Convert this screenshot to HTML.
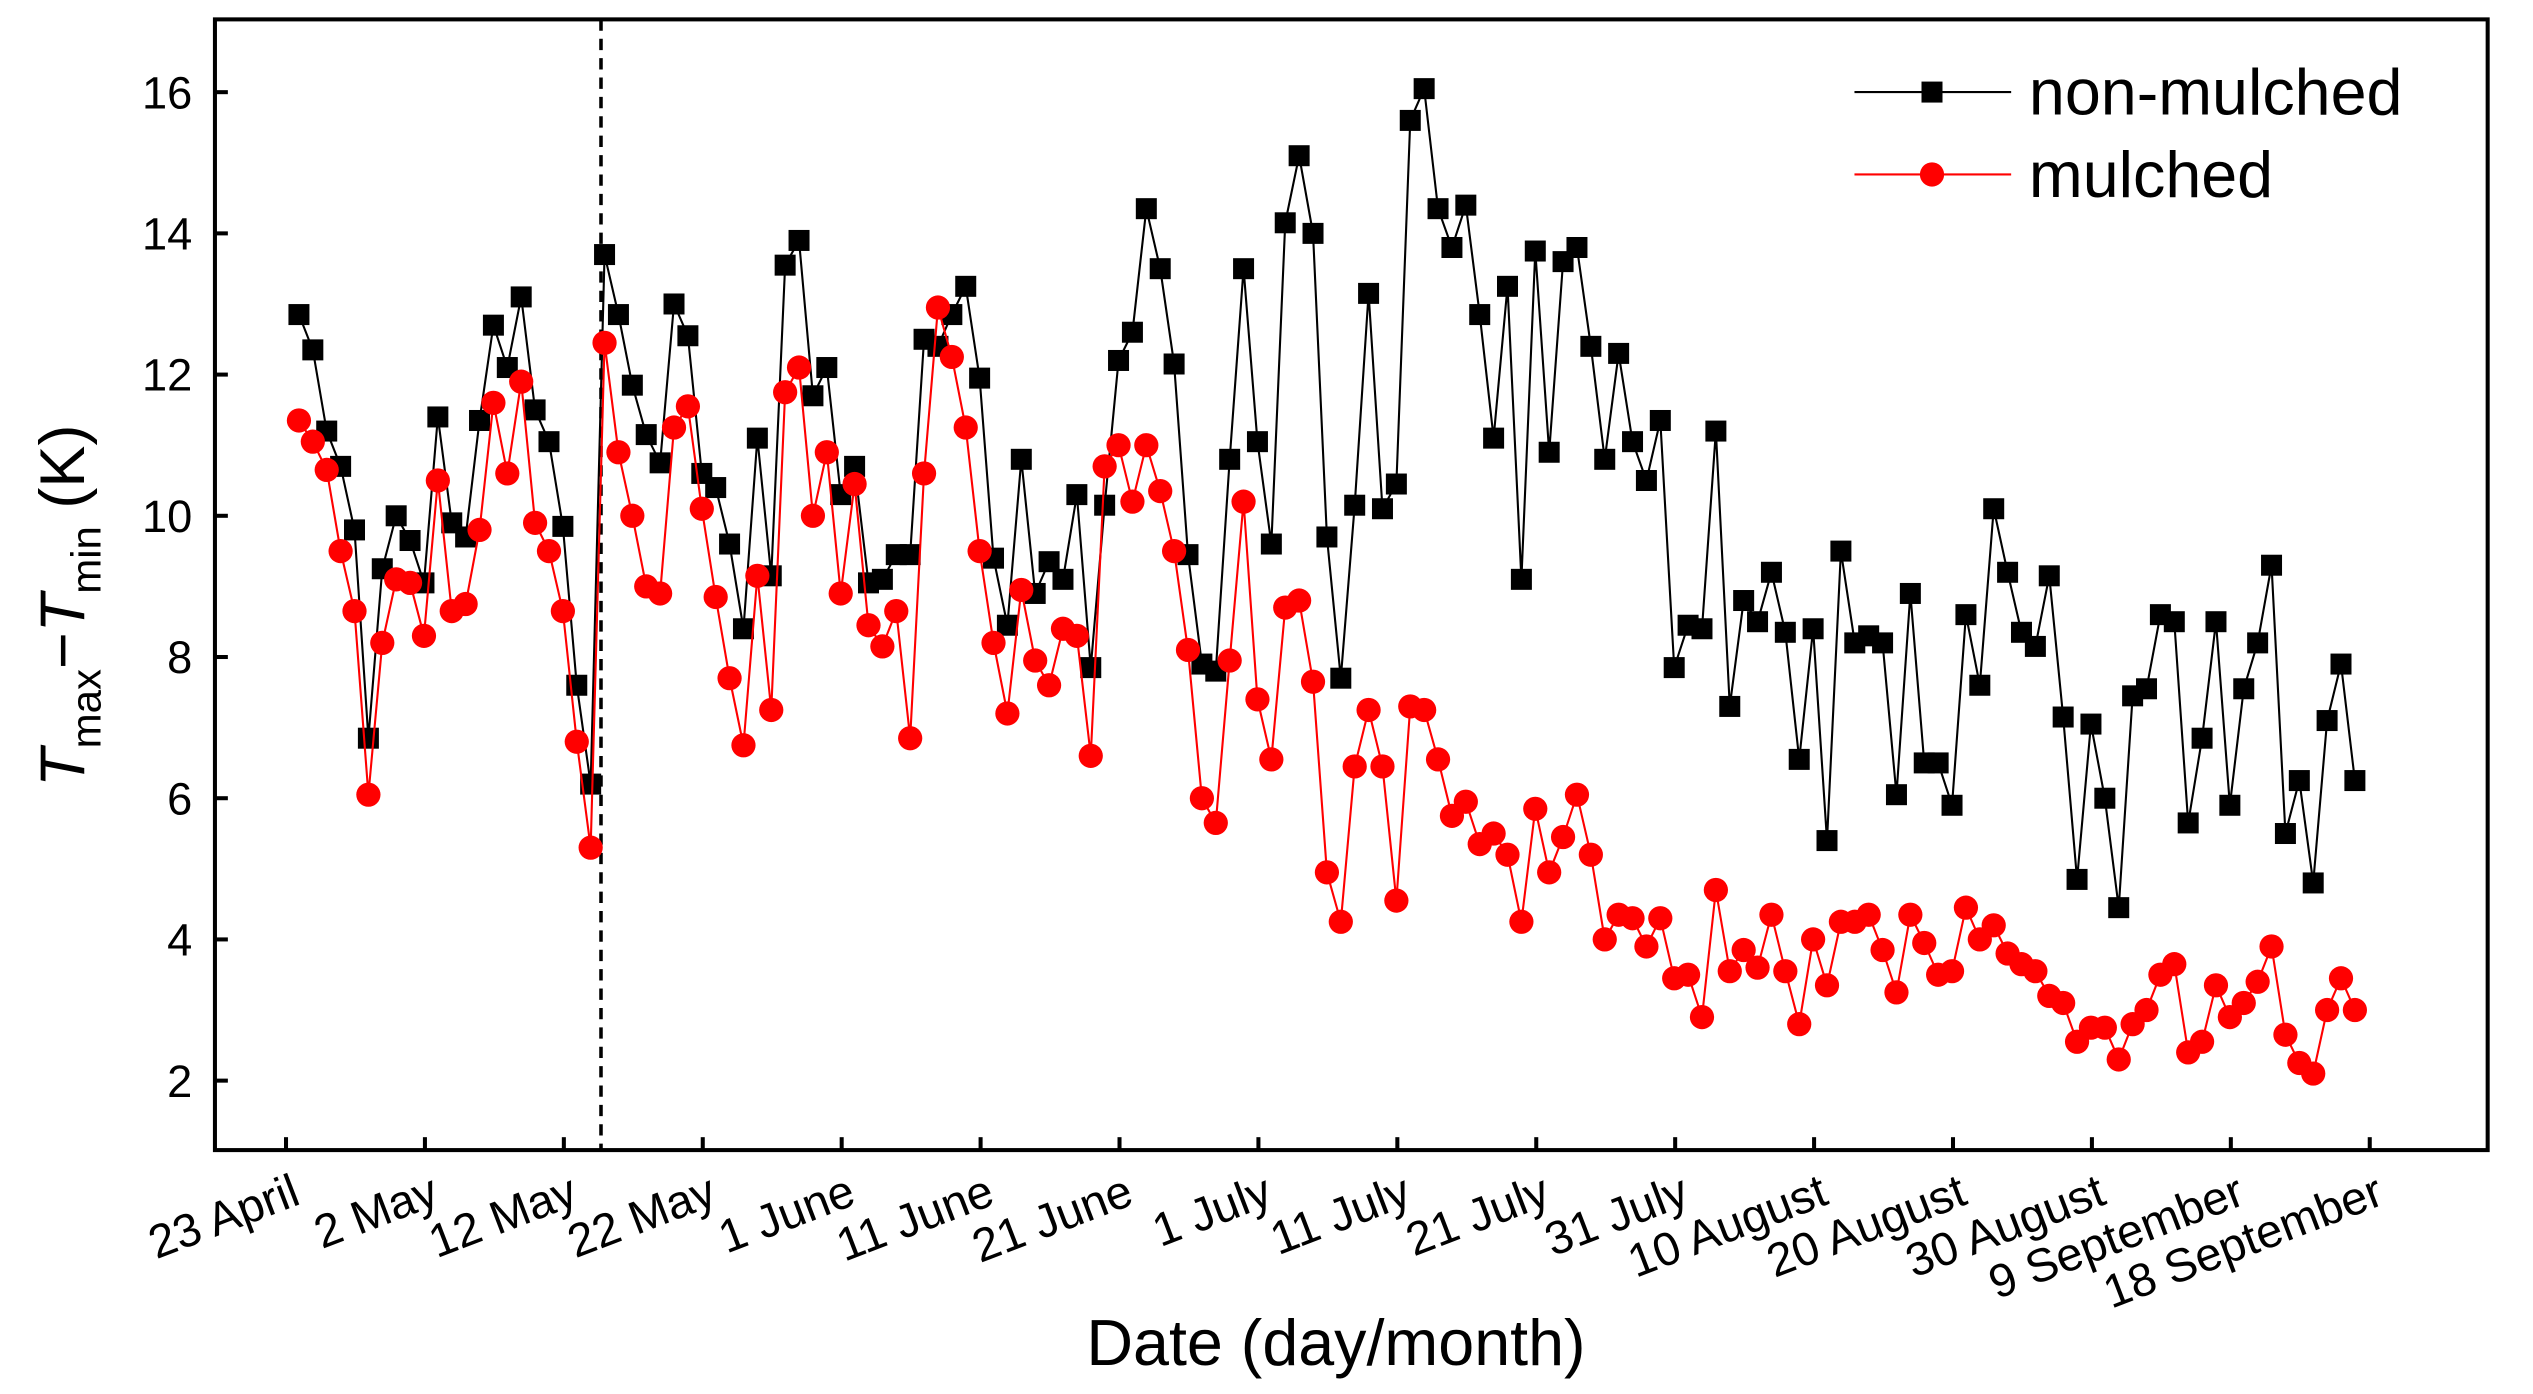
<!DOCTYPE html>
<html><head><meta charset="utf-8">
<style>
html,body{margin:0;padding:0;background:#fff;}
svg{display:block;}
text{font-family:"Liberation Sans",Arial,sans-serif;fill:#000;}
</style></head>
<body>
<svg id="chart" width="2533" height="1394" viewBox="0 0 1568 863" xmlns="http://www.w3.org/2000/svg">
<g id="plot"></g>
</svg>
<script>
const tickLabels = ["23 April","2 May","12 May","22 May","1 June","11 June","21 June","1 July","11 July","21 July","31 July","10 August","20 August","30 August","9 September","18 September"];
const yTicks = [2,4,6,8,10,12,14,16];
const nonMulched = [12.85,12.35,11.2,10.7,9.8,6.85,9.25,10.0,9.65,9.05,11.4,9.9,9.7,11.35,12.7,12.1,13.1,11.5,11.05,9.85,7.6,6.2,13.7,12.85,11.85,11.15,10.75,13.0,12.55,10.6,10.4,9.6,8.4,11.1,9.15,13.55,13.9,11.7,12.1,10.3,10.7,9.05,9.1,9.45,9.45,12.5,12.4,12.85,13.25,11.95,9.4,8.45,10.8,8.9,9.35,9.1,10.3,7.85,10.15,12.2,12.6,14.35,13.5,12.15,9.45,7.9,7.8,10.8,13.5,11.05,9.6,14.15,15.1,14.0,9.7,7.7,10.15,13.15,10.1,10.45,15.6,16.05,14.35,13.8,14.4,12.85,11.1,13.25,9.1,13.75,10.9,13.6,13.8,12.4,10.8,12.3,11.05,10.5,11.35,7.85,8.45,8.4,11.2,7.3,8.8,8.5,9.2,8.35,6.55,8.4,5.4,9.5,8.2,8.3,8.2,6.05,8.9,6.5,6.5,5.9,8.6,7.6,10.1,9.2,8.35,8.15,9.15,7.15,4.85,7.05,6.0,4.45,7.45,7.55,8.6,8.5,5.65,6.85,8.5,5.9,7.55,8.2,9.3,5.5,6.25,4.8,7.1,7.9,6.25];
const mulched = [11.35,11.05,10.65,9.5,8.65,6.05,8.2,9.1,9.05,8.3,10.5,8.65,8.75,9.8,11.6,10.6,11.9,9.9,9.5,8.65,6.8,5.3,12.45,10.9,10.0,9.0,8.9,11.25,11.55,10.1,8.85,7.7,6.75,9.15,7.25,11.75,12.1,10.0,10.9,8.9,10.45,8.45,8.15,8.65,6.85,10.6,12.95,12.25,11.25,9.5,8.2,7.2,8.95,7.95,7.6,8.4,8.3,6.6,10.7,11.0,10.2,11.0,10.35,9.5,8.1,6.0,5.65,7.95,10.2,7.4,6.55,8.7,8.8,7.65,4.95,4.25,6.45,7.25,6.45,4.55,7.3,7.25,6.55,5.75,5.95,5.35,5.5,5.2,4.25,5.85,4.95,5.45,6.05,5.2,4.0,4.35,4.3,3.9,4.3,3.45,3.5,2.9,4.7,3.55,3.85,3.6,4.35,3.55,2.8,4.0,3.35,4.25,4.25,4.35,3.85,3.25,4.35,3.95,3.5,3.55,4.45,4.0,4.2,3.8,3.65,3.55,3.2,3.1,2.55,2.75,2.75,2.3,2.8,3.0,3.5,3.65,2.4,2.55,3.35,2.9,3.1,3.4,3.9,2.65,2.25,2.1,3.0,3.45,3.0];

const NS="http://www.w3.org/2000/svg";
const L=133,R=1540,T=12,B=712;
function yS(v){return 669-(v-2)*43.71;}
function xS(i){return 185+i*8.6;}
function tickX(k){return 177+k*86.0;}
const g=document.getElementById('plot');
function mk(tag,attrs,parent){const e=document.createElementNS(NS,tag);for(const k in attrs)e.setAttribute(k,attrs[k]);(parent||g).appendChild(e);return e;}

const fr=mk('rect',{x:L,y:T,width:R-L,height:B-T,fill:'none',stroke:'#000','stroke-width':2.5});



yTicks.forEach(v=>{
  const t=mk('line',{x1:L,x2:L+8,y1:yS(v),y2:yS(v),stroke:'#000','stroke-width':2.5});
  
  
  const tx=mk('text',{x:L-14,y:yS(v)+10,'text-anchor':'end','font-size':28});
  tx.textContent=v;
  
  
});
tickLabels.forEach((lab,k)=>{
  const x=tickX(k);
  const t=mk('line',{x1:x,x2:x,y1:B,y2:B-8,stroke:'#000','stroke-width':2.5});
  
  
  const tx=mk('text',{x:0,y:0,'text-anchor':'end','font-size':29,transform:`translate(${x+10},${745}) rotate(-21)`});
  tx.textContent=lab;
  
  
});
const dl=mk('line',{x1:372,x2:372,y1:T,y2:B,stroke:'#000','stroke-width':2.2,'stroke-dasharray':'7,5'});



function series(data,color,shape,name){
  const pts=data.map((v,i)=>xS(i).toFixed(1)+','+yS(v).toFixed(1)).join(' ');
  const pl=mk('polyline',{points:pts,fill:'none',stroke:color,'stroke-width':1.3});
  
  
  data.forEach((v,i)=>{
    let m;
    if(shape==='sq') m=mk('rect',{x:xS(i)-6.5,y:yS(v)-6.5,width:13,height:13,fill:color});
    else m=mk('circle',{cx:xS(i),cy:yS(v),r:7.5,fill:color});
    
    
  });
}
series(nonMulched,'#000','sq','non-mulched');
series(mulched,'#ff0000','ci','mulched');

const l1=mk('line',{x1:1148,x2:1245,y1:57,y2:57,stroke:'#000','stroke-width':1.3});


const m1=mk('rect',{x:1189.5,y:50.5,width:13,height:13,fill:'#000'});


const t1=mk('text',{x:1256,y:71,'font-size':40});t1.textContent='non-mulched';


const l2=mk('line',{x1:1148,x2:1245,y1:108,y2:108,stroke:'#ff0000','stroke-width':1.3});


const m2=mk('circle',{cx:1196,cy:108,r:7.5,fill:'#ff0000'});


const t2=mk('text',{x:1256,y:122,'font-size':40});t2.textContent='mulched';



const xt=mk('text',{x:827,y:845,'text-anchor':'middle','font-size':40});
xt.textContent='Date (day/month)';


const yt=mk('text',{x:0,y:0,'text-anchor':'middle','font-size':39,transform:'translate(52,375) rotate(-90)'});
yt.innerHTML='<tspan font-style="italic">T</tspan><tspan font-size="26" dy="10">max</tspan><tspan dy="-10">−</tspan><tspan font-style="italic">T</tspan><tspan font-size="26" dy="10">min</tspan><tspan dy="-10"> (K)</tspan>';


</script>
</body></html>
